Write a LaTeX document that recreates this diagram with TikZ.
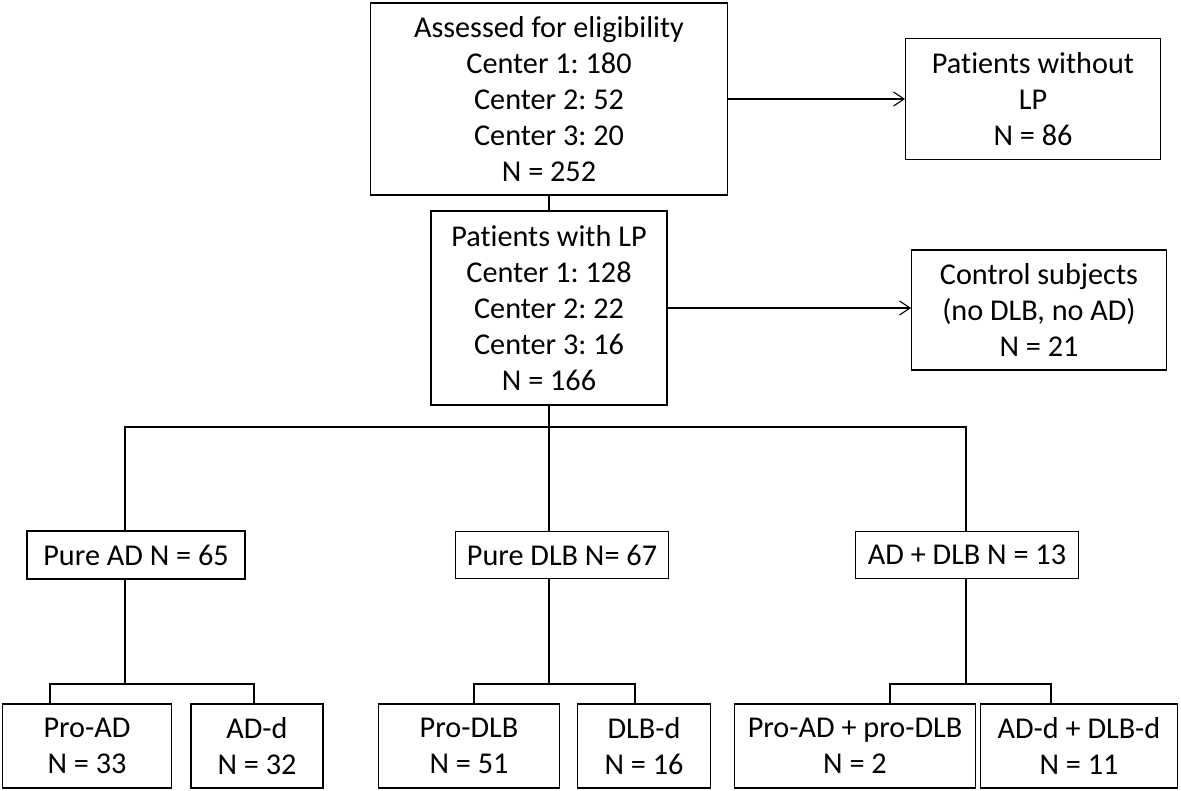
\documentclass[tikz,border=0pt]{standalone}
\usepackage{fontspec}
\setmainfont{Carlito}[Ligatures=NoCommon]
\usetikzlibrary{arrows.meta,positioning}
\frenchspacing

\begin{document}
\begin{tikzpicture}[x=0.02cm,y=-0.02cm,
  box/.style={draw,line width=0.6pt,align=center,inner sep=0pt,
    font=\fontsize{17.2}{20.5}\selectfont},
  link/.style={line width=0.6pt},
  arr/.style={link,-{Straight Barb[length=6pt,width=8pt]}}]
  \useasboundingbox (0,0) rectangle (1181,791);

  % top part
  \node[box,minimum width=7.16cm,minimum height=3.84cm] (assessed) at (549,99)
    {Assessed for eligibility\\Center 1: 180\\Center 2: 52\\Center 3: 20\\N = 252};
  \node[box,minimum width=5.10cm,minimum height=2.42cm] (nolp) at (1033,99)
    {Patients without\\LP\\N = 86};
  \node[box,minimum width=4.72cm,minimum height=3.88cm] (withlp) at (549,308)
    {Patients with LP\\Center 1: 128\\Center 2: 22\\Center 3: 16\\N = 166};
  \node[box,minimum width=5.10cm,minimum height=2.40cm] (control) at (1039,310)
    {Control subjects\\(no DLB, no AD)\\N = 21};

  % groups
  \node[box,minimum width=4.36cm,minimum height=0.96cm] (pureAD) at (136,555) {Pure AD N = 65};
  \node[box,minimum width=4.26cm,minimum height=0.94cm] (pureDLB) at (562,555) {Pure DLB N= 67};
  \node[box,minimum width=4.46cm,minimum height=0.94cm] (mix) at (967,555) {AD + DLB N = 13};

  % subgroups
  \node[box,minimum width=3.38cm,minimum height=1.68cm] (proAD) at (87,746) {Pro-AD\\N = 33};
  \node[box,minimum width=2.64cm,minimum height=1.68cm] (dAD) at (257,746) {AD-d\\N = 32};
  \node[box,minimum width=3.62cm,minimum height=1.68cm] (proDLB) at (469,746) {Pro-DLB\\N = 51};
  \node[box,minimum width=2.66cm,minimum height=1.68cm] (dDLB) at (644,746) {DLB-d\\N = 16};
  \node[box,minimum width=4.82cm,minimum height=1.68cm] (proMix) at (855,746) {Pro-AD + pro-DLB\\N = 2};
  \node[box,minimum width=3.94cm,minimum height=1.68cm] (dMix) at (1079,746) {AD-d + DLB-d\\N = 11};

  % connectors
  \draw[arr] (assessed.east) -- (assessed.east -| nolp.west);
  \draw[link] (assessed) -- (withlp);
  \draw[arr] (withlp.east) -- (withlp.east -| control.west);
  \draw[link] (withlp.south) -- (withlp.south |- pureDLB.north);
  \draw[link] (125,0 |- pureAD.north) |- (966,427) -- (966,0 |- mix.north);
  \foreach \col/\grp/\lft/\rgt/\one/\two in {125/pureAD/50/254/proAD/dAD,
      549/pureDLB/474/635/proDLB/dDLB, 966/mix/890/1051/proMix/dMix}{
    \draw[link] (\col,0 |- \grp.south) -- (\col,684);
    \draw[link] (\lft,0 |- \one.north) -- (\lft,684) -- (\rgt,684) -- (\rgt,0 |- \two.north);
  }
\end{tikzpicture}
\end{document}
